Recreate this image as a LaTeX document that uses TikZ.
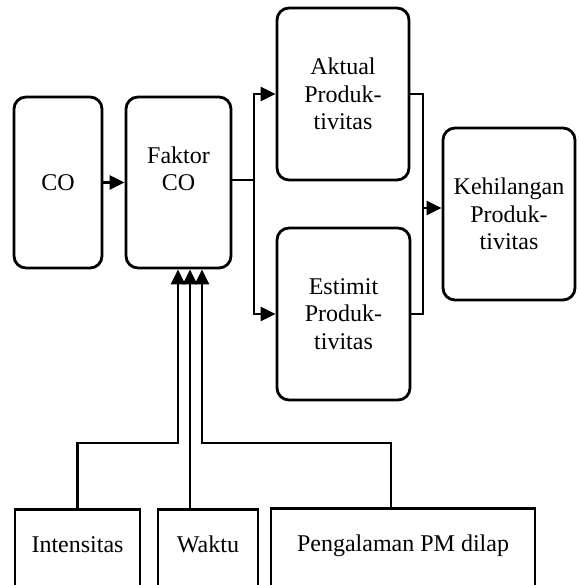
\documentclass[tikz,border=0pt]{standalone}
\usepackage{fontspec}
\setmainfont{Liberation Serif}
\usetikzlibrary{arrows.meta}
\begin{document}
\begin{tikzpicture}[x=0.5pt,y=-0.5pt,
  box/.style={draw, line width=1.4pt, rounded corners=6pt, align=center,
    inner sep=0pt, font=\fontsize{12}{13.8}\selectfont},
  basebox/.style={draw, line width=1.4pt, anchor=north, inner xsep=0pt,
    inner ysep=0pt, text height=21.5pt, text depth=24.5pt,
    font=\fontsize{12}{13.8}\selectfont},
  link/.style={line width=1.3pt},
  arr/.style={link, -{Triangle[length=7.5pt,width=7pt]}}]
\useasboundingbox (0,0) rectangle (579,585);
\fill[white] (0,0) rectangle (579,585);
\clip (0,0) rectangle (579,585);

% upper row of rounded boxes
\node[box, minimum width=44pt, minimum height=85.5pt] (co) at (58,182.5) {CO};
\node[box, minimum width=52.5pt, minimum height=85.5pt] (faktor) at (178.5,182.5) {Faktor\\CO\\\mbox{}};
\node[box, minimum width=66pt, minimum height=86pt] (aktual) at (343,94) {Aktual\\Produk-\\tivitas};
\node[box, minimum width=66.5pt, minimum height=86pt] (estimit) at (343.5,314) {Estimit\\Produk-\\tivitas};
\node[box, minimum width=66pt, minimum height=86pt] (kehil) at (509,214) {Kehilangan\\Produk-\\tivitas};

% input factors along the bottom
\node[basebox, minimum width=62.5pt] (intens) at (77.5,508) {Intensitas};
\node[basebox, minimum width=50pt] (waktu) at (208,508) {Waktu};
\node[basebox, minimum width=132pt] (pengal) at (403,507) {Pengalaman PM dilap};

% bend points
\coordinate (split) at (254,180);
\coordinate (merge) at (423,208);
\coordinate (inA) at (178,443);
\coordinate (inB) at (190,443);
\coordinate (inC) at (202,443);
\coordinate (inCfoot) at (391,443);

% connectors
\draw[arr] (co.east) -- (faktor.west);
\draw[link] (faktor.east |- split) -- (split);
\draw[arr] (split) |- (aktual.west);
\draw[arr] (split) |- (estimit.west);
\draw[link] (aktual.east) -| (merge) |- (estimit.east);
\draw[arr] (merge) -- (kehil.west |- merge);
\draw[arr] (intens.north) |- (inA) -- (faktor.south -| inA);
\draw[arr] (waktu.north -| inB) -- (faktor.south -| inB);
\draw[arr] (pengal.north -| inCfoot) -- (inCfoot) -- (inC) -- (faktor.south -| inC);
\end{tikzpicture}
\end{document}
